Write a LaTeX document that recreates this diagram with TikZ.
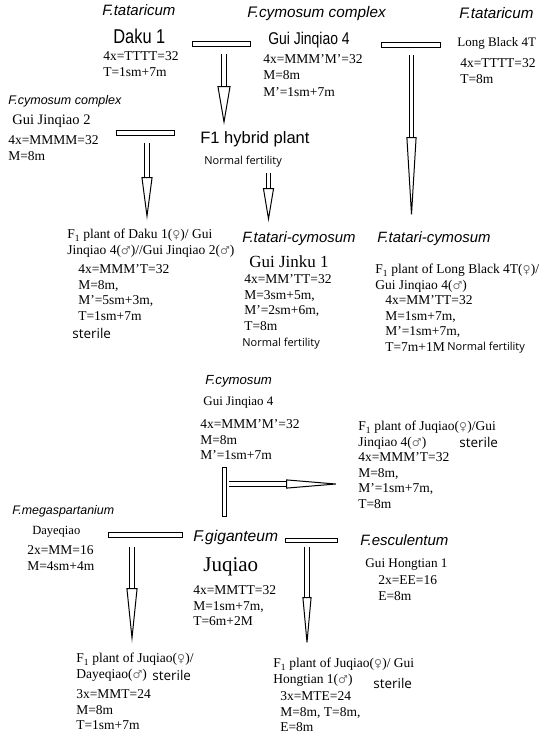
\documentclass[tikz,border=0pt]{standalone}
\usepackage{fontspec}
\setmainfont{Liberation Serif}
\setsansfont{Liberation Sans}
\newfontfamily\segoefont{Open Sans}
\newfontfamily\narrowfont[FakeStretch=0.82]{Liberation Sans}
\newfontfamily\gendersym{DejaVu Sans}
\usetikzlibrary{arrows.meta}

\newcommand{\fsym}{{\gendersym\fontsize{11}{11}\selectfont\color{black!55}♀}}
\newcommand{\msym}{{\gendersym\fontsize{11}{11}\selectfont\color{black!55}♂}}

\tikzset{every picture/.style={line width=0.75pt}}
\tikzset{
  namenode/.style={inner sep=0pt, anchor=base west, font=\fontsize{#1}{#1}\selectfont},
  bigsans/.style={inner sep=0pt, anchor=base west, font=\narrowfont\fontsize{#1}{#1}\selectfont},
  spname/.style={inner sep=0pt, anchor=base west, font=\sffamily\itshape\fontsize{#1}{#1}\selectfont},
  datablock/.style={inner sep=0pt, anchor=north west, align=left, font=\fontsize{13.5}{15.8}\selectfont},
  fertnote/.style={inner sep=0pt, anchor=base west, font=\segoefont\fontsize{#1}{#1}\selectfont},
  crossbar/.style={draw, line width=1.3pt, inner sep=0pt, minimum height=4.5pt},
  hollowarrow/.style args={#1/#2}{double=white, double distance=3.6pt, line width=1pt,
    -{Triangle[open, length=#1, width=#2, line width=1pt]}}
}

\begin{document}
\begin{tikzpicture}[x=1pt,y=1pt,yscale=-1,xscale=1]
\useasboundingbox (0,0) rectangle (550,740);

% Text Node
\node[spname=15] (tatL) at (102,15) {F.tataricum};
% Text Node
\node[bigsans=20] (daku) at (113,43) {Daku 1};
% Text Node
\node[datablock] (dakuData) at (103,51) {4x=TTTT=32\\T=1sm+7m};
% Text Node
\node[spname=15.3] (cymT) at (247,17) {F.cymosum complex};
% Text Node
\node[bigsans=17] (gjqFour) at (268,44) {Gui Jinqiao 4};
% Text Node
\node[datablock, font=\fontsize{13.5}{16.5}\selectfont] (gjqFourData) at (263,54) {4x=MMM'M'=32\\M=8m\\M'=1sm+7m};
% Text Node
\node[spname=15.2] (tatR) at (459,18) {F.tataricum};
% Text Node
\node[namenode=13] (longBlack) at (457,46) {Long Black 4T};
% Text Node
\node[datablock] (longBlackData) at (460,58) {4x=TTTT=32\\T=8m};
% Text Node
\node[spname=12.5] (cymL) at (8,104) {F.cymosum complex};
% Text Node
\node[namenode=14.5] (gjqTwo) at (12,124) {Gui Jinqiao 2};
% Text Node
\node[datablock] (gjqTwoData) at (8,135) {4x=MMMM=32\\M=8m};
% Text Node
\node[inner sep=0pt, anchor=base west, font=\sffamily\fontsize{16.5}{16.5}\selectfont] (hybrid) at (200,143) {F1 hybrid plant};
% Text Node
\node[fertnote=11] (hybFert) at (204,164) {Normal fertility};

% Text Node
\node[datablock] (fDaku) at (67,229) {F\textsubscript{1} plant of Daku 1(\fsym)/ Gui\\Jinqiao 4(\msym)//Gui Jinqiao 2(\msym)};
% Text Node
\node[datablock] (fDakuData) at (78,264) {4x=MMM'T=32\\M=8m,\\M'=5sm+3m,\\T=1sm+7m};
% Text Node
\node[fertnote=13.5] (sterA) at (72,338) {sterile};
% Text Node
\node[spname=14.9] (tcM) at (242,242) {F.tatari-cymosum};
% Text Node
\node[namenode=17] (jinku) at (249,267) {Gui Jinku 1};
% Text Node
\node[datablock] (jinkuData) at (244,274) {4x=MM'TT=32\\M=3sm+5m,\\M'=2sm+6m,\\T=8m};
% Text Node
\node[fertnote=11] (fertM) at (242,346) {Normal fertility};
% Text Node
\node[spname=14.9] (tcR) at (377,242) {F.tatari-cymosum};
% Text Node
\node[datablock] (fLong) at (375,264) {F\textsubscript{1} plant of Long Black 4T(\fsym)/\\Gui Jinqiao 4(\msym)};
% Text Node
\node[datablock] (fLongData) at (385,295) {4x=MM'TT=32\\M=1sm+7m,\\M'=1sm+7m,\\T=7m+1M};
% Text Node
\node[fertnote=11] (fertR) at (447,350) {Normal fertility};

% Text Node
\node[spname=13.2] (cymM) at (205,384) {F.cymosum};
% Text Node
\node[namenode=13] (gjqFourM) at (203,405) {Gui Jinqiao 4};
% Text Node
\node[datablock] (gjqFourMData) at (200,419) {4x=MMM'M'=32\\M=8m\\M'=1sm+7m};
% Text Node
\node[datablock] (fJuGui) at (358,421) {F\textsubscript{1} plant of Juqiao(\fsym)/Gui\\Jinqiao 4(\msym)};
% Text Node
\node[fertnote=13.5] (sterM) at (459,447) {sterile};
% Text Node
\node[datablock] (fJuGuiData) at (358,452) {4x=MMM'T=32\\M=8m,\\M'=1sm+7m,\\T=8m};

% Text Node
\node[spname=12.4] (megaL) at (12,514) {F.megaspartanium};
% Text Node
\node[namenode=12.5] (dayeqiao) at (32,534) {Dayeqiao};
% Text Node
\node[datablock] (dayeqiaoData) at (27,545) {2x=MM=16\\M=4sm+4m};
% Text Node
\node[spname=15.6] (gigM) at (193,541) {F.giganteum};
% Text Node
\node[namenode=21] (juqiao) at (203,571) {Juqiao};
% Text Node
\node[datablock] (juqiaoData) at (193,585) {4x=MMTT=32\\M=1sm+7m,\\T=6m+2M};
% Text Node
\node[spname=15] (escR) at (360,545) {F.esculentum};
% Text Node
\node[namenode=13.2] (hongtian) at (365,567) {Gui Hongtian 1};
% Text Node
\node[datablock] (hongtianData) at (378,575) {2x=EE=16\\E=8m};
% Text Node
\node[datablock] (fJuDaye) at (76,653) {F\textsubscript{1} plant of Juqiao(\fsym)/\\Dayeqiao(\msym)};
% Text Node
\node[fertnote=13.5] (sterD) at (152,680) {sterile};
% Text Node
\node[datablock] (fJuDayeData) at (76,689) {3x=MMT=24\\M=8m\\T=1sm+7m};
% Text Node
\node[datablock] (fJuHong) at (273,658) {F\textsubscript{1} plant of Juqiao(\fsym)/ Gui\\Hongtian 1(\msym)};
% Text Node
\node[fertnote=13.5] (sterE) at (373,688) {sterile};
% Text Node
\node[datablock] (fJuHongData) at (280,691) {3x=MTE=24\\M=8m, T=8m,\\E=8m};

%Shape: Rectangle
\node[crossbar, minimum width=58pt] (crossA) at (221.5,44) {};
\node[crossbar, minimum width=59pt] (crossB) at (411,45) {};
\node[crossbar, minimum width=58pt] (crossC) at (145.5,133) {};
\node[crossbar, minimum width=4pt, minimum height=49pt] (crossM) at (224.5,492) {};
\node[crossbar, minimum width=74pt] (crossD) at (145.5,535) {};
\node[crossbar, minimum width=52pt] (crossE) at (311.5,540.5) {};

\coordinate (tipA) at (224,125);
\coordinate (tipB) at (411.5,223);
\coordinate (tipC) at (147,220);
\coordinate (tipD) at (268.5,222);
\coordinate (tipM) at (342,484);
\coordinate (tipE) at (132,643);
\coordinate (tipF) at (307,648);

%Straight Lines
\draw[hollowarrow=39pt/13pt, shorten <=7pt] (crossA.south -| tipA) -- (tipA);
\draw[hollowarrow=86pt/10pt, shorten <=7pt] (crossB.south -| tipB) -- (tipB);
\draw[hollowarrow=43pt/11pt, shorten <=7pt] (crossC.south -| tipC) -- (tipC);
\draw[hollowarrow=34pt/11pt, shorten <=5.5pt] (hybFert.south -| tipD) -- (tipD);
\draw[hollowarrow=56pt/9pt, shorten <=2pt] (crossM.east |- tipM) -- (tipM);
\draw[hollowarrow=55pt/11pt, shorten <=9pt] (crossD.south -| tipE) -- (tipE);
\draw[hollowarrow=51pt/9pt, shorten <=4pt] (crossE.south -| tipF) -- (tipF);

\end{tikzpicture}
\end{document}
